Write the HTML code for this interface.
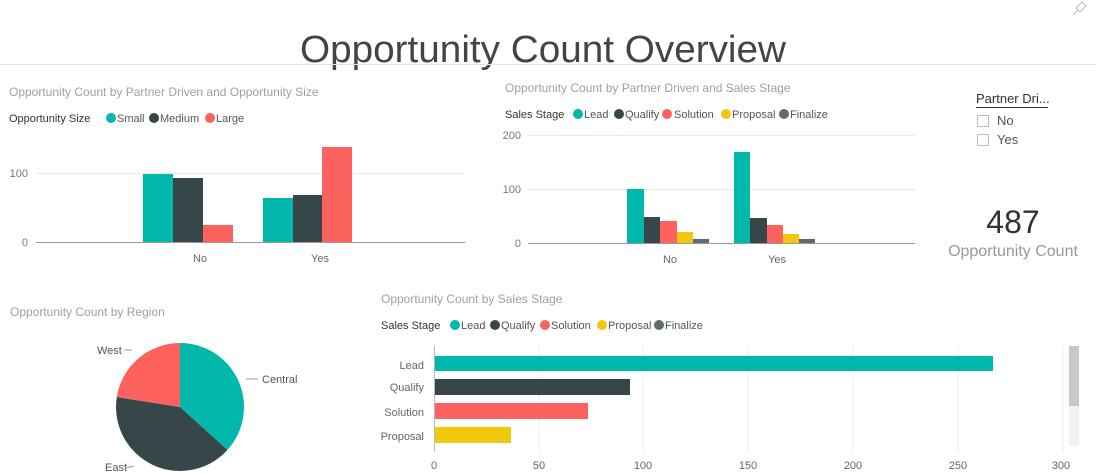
<!DOCTYPE html>
<html><head><meta charset="utf-8"><style>
html,body{margin:0;padding:0;background:#fff;width:1103px;height:474px;overflow:hidden}
svg text{font-family:"Liberation Sans",sans-serif}
</style></head><body>
<svg width="1103" height="474" viewBox="0 0 1103 474" xmlns="http://www.w3.org/2000/svg">
<text x="543" y="62" text-anchor="middle" font-size="38" fill="#444" textLength="486" lengthAdjust="spacingAndGlyphs">Opportunity Count Overview</text>
<line x1="0" y1="64.5" x2="1095" y2="64.5" stroke="#e3e3e3"/>
<g stroke="#bbb" fill="none"><path d="M1076 8 L1082 2 L1086 6 L1080 12 Z M1078 10 L1073 15"/></g>

<!-- chart 1 -->
<text x="9" y="96" font-size="12" fill="#a0a0a0">Opportunity Count by Partner Driven and Opportunity Size</text>
<text x="9" y="122" font-size="11" fill="#333">Opportunity Size</text>
<circle cx="111" cy="118" r="5" fill="#01b8aa"/><text x="117" y="122" font-size="11" fill="#555">Small</text>
<circle cx="154" cy="118" r="5" fill="#374649"/><text x="160" y="122" font-size="11" fill="#555">Medium</text>
<circle cx="210" cy="118" r="5" fill="#fd625e"/><text x="216" y="122" font-size="11" fill="#555">Large</text>
<line x1="36" y1="173.5" x2="465" y2="173.5" stroke="#eaeaea"/>
<text x="28" y="177" font-size="11" fill="#777" text-anchor="end">100</text>
<text x="28" y="246" font-size="11" fill="#777" text-anchor="end">0</text>
<rect x="143" y="174" width="30" height="68" fill="#01b8aa"/>
<rect x="173" y="178" width="30" height="64" fill="#374649"/>
<rect x="203" y="225" width="30" height="17" fill="#fd625e"/>
<rect x="263" y="198" width="30" height="44" fill="#01b8aa"/>
<rect x="293" y="195" width="29" height="47" fill="#374649"/>
<rect x="322" y="147" width="30" height="95" fill="#fd625e"/>
<line x1="36" y1="242.5" x2="465" y2="242.5" stroke="#999"/>
<text x="200" y="262" font-size="11" fill="#666" text-anchor="middle">No</text>
<text x="320" y="262" font-size="11" fill="#666" text-anchor="middle">Yes</text>

<!-- chart 2 -->
<text x="505" y="92" font-size="12" fill="#a0a0a0">Opportunity Count by Partner Driven and Sales Stage</text>
<text x="505" y="118" font-size="11" fill="#333">Sales Stage</text>
<circle cx="578" cy="114" r="5" fill="#01b8aa"/><text x="584" y="118" font-size="11" fill="#555">Lead</text>
<circle cx="619" cy="114" r="5" fill="#374649"/><text x="625" y="118" font-size="11" fill="#555">Qualify</text>
<circle cx="667" cy="114" r="5" fill="#fd625e"/><text x="674" y="118" font-size="11" fill="#555">Solution</text>
<circle cx="726" cy="114" r="5" fill="#f2c80f"/><text x="732" y="118" font-size="11" fill="#555">Proposal</text>
<circle cx="784" cy="114" r="5" fill="#5f6b6d"/><text x="790" y="118" font-size="11" fill="#555">Finalize</text>
<line x1="528" y1="135.5" x2="915" y2="135.5" stroke="#eaeaea"/>
<line x1="528" y1="189.5" x2="915" y2="189.5" stroke="#eaeaea"/>
<text x="521" y="139" font-size="11" fill="#777" text-anchor="end">200</text>
<text x="521" y="193" font-size="11" fill="#777" text-anchor="end">100</text>
<text x="521" y="247" font-size="11" fill="#777" text-anchor="end">0</text>
<rect x="627" y="189" width="17" height="54" fill="#01b8aa"/>
<rect x="644" y="217" width="16" height="26" fill="#374649"/>
<rect x="660" y="221" width="17" height="22" fill="#fd625e"/>
<rect x="677" y="232" width="16" height="11" fill="#f2c80f"/>
<rect x="693" y="239" width="16" height="4" fill="#5f6b6d"/>
<rect x="734" y="152" width="16" height="91" fill="#01b8aa"/>
<rect x="750" y="218" width="17" height="25" fill="#374649"/>
<rect x="767" y="225" width="16" height="18" fill="#fd625e"/>
<rect x="783" y="234" width="16" height="9" fill="#f2c80f"/>
<rect x="799" y="239" width="16" height="4" fill="#5f6b6d"/>
<line x1="528" y1="243.5" x2="915" y2="243.5" stroke="#999"/>
<text x="670" y="263" font-size="11" fill="#666" text-anchor="middle">No</text>
<text x="777" y="263" font-size="11" fill="#666" text-anchor="middle">Yes</text>

<!-- slicer -->
<text x="976" y="103" font-size="13" fill="#333">Partner Dri...</text>
<line x1="976" y1="107.5" x2="1048" y2="107.5" stroke="#333"/>
<rect x="977.5" y="115.5" width="11" height="11" fill="#fff" stroke="#bbb"/>
<text x="997" y="125" font-size="13" fill="#555">No</text>
<rect x="977.5" y="134.5" width="11" height="11" fill="#fff" stroke="#bbb"/>
<text x="997" y="144" font-size="13" fill="#555">Yes</text>

<!-- card -->
<text x="1013" y="233" font-size="32" fill="#333" text-anchor="middle">487</text>
<text x="1013" y="256" font-size="16" fill="#999" text-anchor="middle">Opportunity Count</text>

<!-- pie -->
<text x="10" y="316" font-size="12" fill="#a0a0a0">Opportunity Count by Region</text>
<g transform="translate(180,407)">
<path d="M0 0 L0 -64 A64 64 0 0 1 47.4 43 Z" fill="#01b8aa"/>
<path d="M0 0 L47.4 43 A64 64 0 0 1 -63.2 -10 Z" fill="#374649"/>
<path d="M0 0 L-63.2 -10 A64 64 0 0 1 0 -64 Z" fill="#fd625e"/>
</g>
<text x="97" y="354" font-size="11" fill="#555">West</text>
<line x1="124" y1="350" x2="132" y2="350" stroke="#999"/>
<text x="262" y="383" font-size="11" fill="#555">Central</text>
<line x1="246" y1="379" x2="258" y2="379" stroke="#999"/>
<text x="105" y="471" font-size="11" fill="#555">East</text>
<line x1="126" y1="468" x2="134" y2="466" stroke="#999"/>

<!-- bar chart -->
<text x="381" y="303" font-size="12" fill="#a0a0a0">Opportunity Count by Sales Stage</text>
<text x="381" y="329" font-size="11" fill="#333">Sales Stage</text>
<circle cx="455" cy="325" r="5" fill="#01b8aa"/><text x="461" y="329" font-size="11" fill="#555">Lead</text>
<circle cx="495" cy="325" r="5" fill="#374649"/><text x="501" y="329" font-size="11" fill="#555">Qualify</text>
<circle cx="545" cy="325" r="5" fill="#fd625e"/><text x="551" y="329" font-size="11" fill="#555">Solution</text>
<circle cx="602" cy="325" r="5" fill="#f2c80f"/><text x="608" y="329" font-size="11" fill="#555">Proposal</text>
<circle cx="659" cy="325" r="5" fill="#5f6b6d"/><text x="665" y="329" font-size="11" fill="#555">Finalize</text>
<g stroke="#eeeeee">
<line x1="539" y1="346" x2="539" y2="452"/><line x1="643" y1="346" x2="643" y2="452"/>
<line x1="748" y1="346" x2="748" y2="452"/><line x1="853" y1="346" x2="853" y2="452"/>
<line x1="958" y1="346" x2="958" y2="452"/><line x1="1063" y1="346" x2="1063" y2="452"/>
</g>
<line x1="434.5" y1="346" x2="434.5" y2="452" stroke="#bbb"/>
<rect x="435" y="356" width="558" height="15" fill="#01b8aa"/>
<rect x="435" y="379" width="195" height="16" fill="#374649"/>
<rect x="435" y="403" width="153" height="16" fill="#fd625e"/>
<rect x="435" y="427" width="76" height="16" fill="#f2c80f"/>
<g font-size="11" fill="#666" text-anchor="end">
<text x="424" y="369">Lead</text><text x="424" y="391">Qualify</text>
<text x="424" y="416">Solution</text><text x="424" y="440">Proposal</text>
</g>
<g font-size="11" fill="#666" text-anchor="middle">
<text x="434" y="469">0</text><text x="539" y="469">50</text><text x="643" y="469">100</text>
<text x="748" y="469">150</text><text x="853" y="469">200</text><text x="958" y="469">250</text><text x="1061" y="469">300</text>
</g>
<rect x="1069" y="346" width="10" height="100" fill="#f2f2f2"/>
<rect x="1069" y="346" width="10" height="60" fill="#c8c8c8"/>
</svg>
</body></html>
